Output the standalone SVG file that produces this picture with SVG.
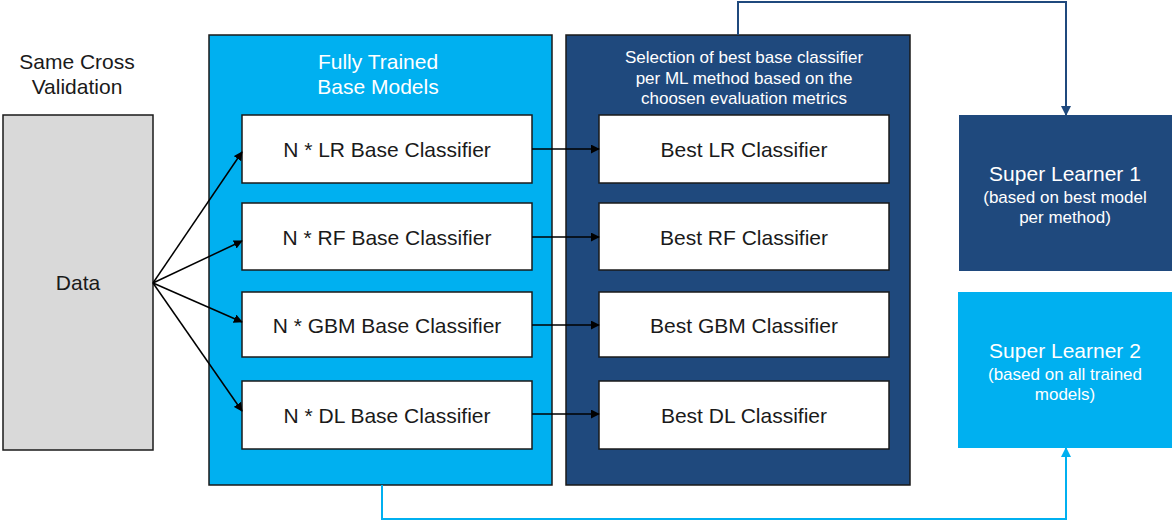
<svg xmlns="http://www.w3.org/2000/svg" width="1173" height="522" viewBox="0 0 1173 522">
<style>
text{font-family:"Liberation Sans",Arial,sans-serif;text-anchor:middle}
.k{fill:#1a1a1a;font-size:21px}
.w{fill:#ffffff}
.box{fill:#ffffff;stroke:#1a1a1a;stroke-width:1.5}
.ln{stroke:#000;stroke-width:1.5;fill:none}
</style>
<defs>
<marker id="ab" viewBox="0 0 10 10" refX="9" refY="5" markerWidth="9" markerHeight="9" markerUnits="userSpaceOnUse" orient="auto"><path d="M0,0L10,5L0,10z" fill="#000"/></marker>
<marker id="ad" viewBox="0 0 10 10" refX="9" refY="5" markerWidth="10" markerHeight="10" markerUnits="userSpaceOnUse" orient="auto"><path d="M0,0L10,5L0,10z" fill="#1f497d"/></marker>
<marker id="al" viewBox="0 0 10 10" refX="9" refY="5" markerWidth="10" markerHeight="10" markerUnits="userSpaceOnUse" orient="auto"><path d="M0,0L10,5L0,10z" fill="#00b0f0"/></marker>
</defs>
<text class="k" x="77" y="69">Same Cross</text>
<text class="k" x="77" y="94">Validation</text>
<g id="data"><rect x="3" y="115" width="150" height="335" fill="#d9d9d9" stroke="#1a1a1a" stroke-width="1.5"/><text class="k" x="78" y="290" font-size="20">Data</text></g>
<g id="trained"><rect x="209" y="35" width="343" height="450" fill="#00b0f0" stroke="#1a1a1a" stroke-width="1.5"/><text class="w" x="378" y="69" font-size="21">Fully Trained</text><text class="w" x="378" y="94" font-size="21">Base Models</text></g>
<g id="selection"><rect x="566" y="35" width="344" height="450" fill="#1f497d" stroke="#1a1a1a" stroke-width="1.5"/><text class="w" x="744" y="63" font-size="17">Selection of best base classifier</text><text class="w" x="744" y="84" font-size="17">per ML method based on the</text><text class="w" x="744" y="104" font-size="17">choosen evaluation metrics</text></g>
<g id="nlr"><rect class="box" x="242" y="115" width="290" height="68"/><text class="k" x="387" y="157">N * LR Base Classifier</text></g>
<g id="nrf"><rect class="box" x="242" y="203" width="290" height="67"/><text class="k" x="387" y="245">N * RF Base Classifier</text></g>
<g id="ngbm"><rect class="box" x="242" y="292" width="290" height="65"/><text class="k" x="387" y="333">N * GBM Base Classifier</text></g>
<g id="ndl"><rect class="box" x="242" y="381" width="290" height="68"/><text class="k" x="387" y="423">N * DL Base Classifier</text></g>
<g id="blr"><rect class="box" x="599" y="115" width="290" height="68"/><text class="k" x="744" y="157">Best LR Classifier</text></g>
<g id="brf"><rect class="box" x="599" y="203" width="290" height="67"/><text class="k" x="744" y="245">Best RF Classifier</text></g>
<g id="bgbm"><rect class="box" x="599" y="292" width="290" height="65"/><text class="k" x="744" y="333">Best GBM Classifier</text></g>
<g id="bdl"><rect class="box" x="599" y="381" width="290" height="68"/><text class="k" x="744" y="423">Best DL Classifier</text></g>
<g id="sl1"><rect x="959" y="115" width="213" height="156" fill="#1f497d"/><text class="w" x="1065" y="181" font-size="21">Super Learner 1</text><text class="w" x="1065" y="203" font-size="17">(based on best model</text><text class="w" x="1065" y="223" font-size="17">per method)</text></g>
<g id="sl2"><rect x="958" y="292" width="214" height="156" fill="#00b0f0"/><text class="w" x="1065" y="358" font-size="21">Super Learner 2</text><text class="w" x="1065" y="380" font-size="17">(based on all trained</text><text class="w" x="1065" y="400" font-size="17">models)</text></g>
<g id="connectors">
<path class="ln" d="M153,283L242,152" marker-end="url(#ab)"/>
<path class="ln" d="M153,283L242,241" marker-end="url(#ab)"/>
<path class="ln" d="M153,283L242,322" marker-end="url(#ab)"/>
<path class="ln" d="M153,283L242,411" marker-end="url(#ab)"/>
<path class="ln" d="M532,149H599" marker-end="url(#ab)"/>
<path class="ln" d="M532,237H599" marker-end="url(#ab)"/>
<path class="ln" d="M532,325H599" marker-end="url(#ab)"/>
<path class="ln" d="M532,414H599" marker-end="url(#ab)"/>
<path d="M738,35V2H1066V115" fill="none" stroke="#1f497d" stroke-width="2" marker-end="url(#ad)"/>
<path d="M382,485V519H1066V448" fill="none" stroke="#00b0f0" stroke-width="2" marker-end="url(#al)"/>
</g>
</svg>
